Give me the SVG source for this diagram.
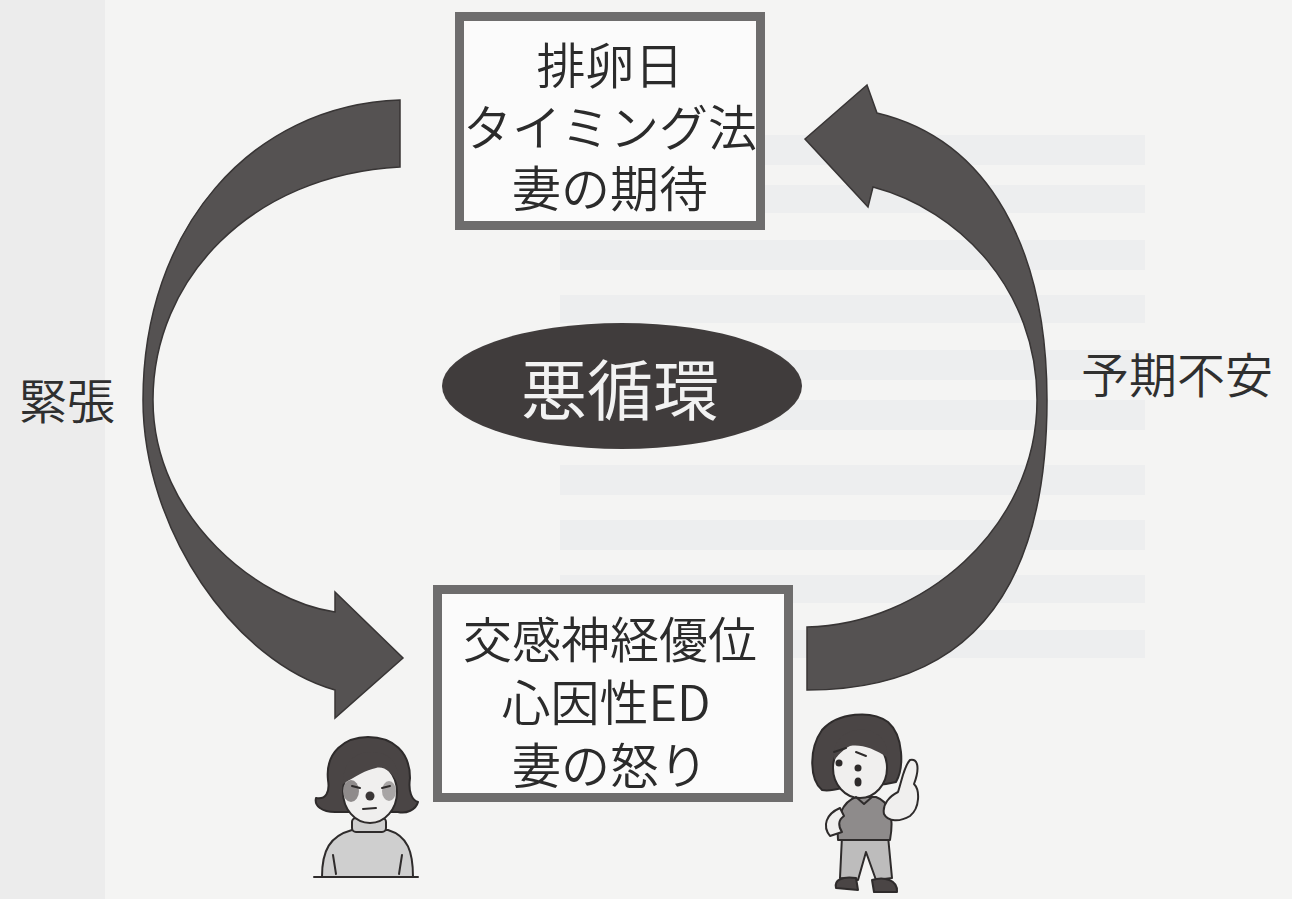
<svg xmlns="http://www.w3.org/2000/svg" width="1292" height="899" viewBox="0 0 1292 899">
  <defs>
    <style>
      .jp { font-family: "Noto Sans CJK JP", "Noto Sans", sans-serif; }
      .box-frame { fill: #fbfbfb; stroke: #6e6d6d; stroke-width: 9; }
      .box-text { fill: #2b2b2b; font-size: 49px; font-weight: 350; text-anchor: middle; dominant-baseline: central; }
      .label { fill: #2f2f2f; font-size: 48px; font-weight: 350; text-anchor: middle; dominant-baseline: central; }
      .loop-arrow { fill: #555252; stroke: #383535; stroke-width: 1.5; stroke-linejoin: miter; }
      .ink { stroke: #2e2b2b; stroke-width: 2; stroke-linejoin: round; stroke-linecap: round; }
      .hair { fill: #4a4545; }
      .skin { fill: #f0efee; }
      .knit { fill: #cfcfcf; }
      .shirt { fill: #8e8b8b; }
      .pants { fill: #bdbcbc; }
      .band { fill: #e6e8ec; }
    </style>
  </defs>

  <!-- paper -->
  <rect x="0" y="0" width="1292" height="899" fill="#f4f4f3"/>
  <rect x="0" y="0" width="105" height="899" fill="#ececec"/>
  <g id="paper-bands" opacity="0.45">
    <rect class="band" x="560" y="135" width="585" height="30"/>
    <rect class="band" x="560" y="185" width="585" height="28"/>
    <rect class="band" x="560" y="240" width="585" height="30"/>
    <rect class="band" x="560" y="295" width="585" height="28"/>
    <rect class="band" x="660" y="350" width="485" height="30"/>
    <rect class="band" x="660" y="400" width="485" height="30"/>
    <rect class="band" x="560" y="465" width="585" height="30"/>
    <rect class="band" x="560" y="520" width="585" height="30"/>
    <rect class="band" x="560" y="575" width="585" height="28"/>
    <rect class="band" x="560" y="630" width="585" height="28"/>
  </g>

  <!-- connectors: the two curved loop arrows -->
  <g id="connectors">
    <path id="arrow-tension" class="loop-arrow"
          d="M 400 100 C 250 105 143 230 143 400 C 143 530 235 662 335 690 L 335 718 L 403 658 L 335 592 L 335 612 C 262 602 153 520 153 400 C 153 280 250 175 400 167 Z"/>
    <path id="arrow-anxiety" class="loop-arrow"
          d="M 807 690 C 970 690 1047 590 1047 400 C 1047 250 990 140 877 113 L 867 85 L 805 139 L 868 207 L 873 187 C 960 210 1037 290 1037 400 C 1037 530 920 625 807 627 Z"/>
  </g>

  <!-- top box -->
  <g id="node-ovulation">
    <rect class="box-frame" x="459.5" y="16.5" width="301" height="209"/>
    <text class="jp box-text"><tspan x="610" y="62">排卵日</tspan><tspan x="610" y="124">タイミング法</tspan><tspan x="610" y="185">妻の期待</tspan></text>
  </g>

  <!-- bottom box -->
  <g id="node-ed">
    <rect class="box-frame" x="437.5" y="589.5" width="351" height="208"/>
    <text class="jp box-text"><tspan x="610" y="636">交感神経優位</tspan><tspan x="606" y="699">心因性ED</tspan><tspan x="610" y="762">妻の怒り</tspan></text>
  </g>

  <!-- centre ellipse -->
  <g id="node-vicious-circle">
    <ellipse cx="622" cy="386" rx="180" ry="63" fill="#403c3c"/>
    <text class="jp" x="620" y="386" font-size="66" fill="#f2f2f2" text-anchor="middle" dominant-baseline="central">悪循環</text>
  </g>

  <!-- side labels -->
  <g id="label-tension">
    <text class="jp label" x="67" y="398">緊張</text>
  </g>
  <g id="label-anxiety">
    <text class="jp label" x="1177" y="372">予期不安</text>
  </g>

  <!-- worried woman, bottom left -->
  <g id="figure-worried">
    <path class="knit ink" d="M 322 877 C 322 850 330 836 352 830 L 388 830 C 408 836 413 852 413 877 Z"/>
    <path class="ink" fill="none" d="M 333 855 L 336 874 M 402 855 L 399 874"/>
    <rect class="knit ink" x="352" y="818" width="34" height="14" rx="4"/>
    <path class="hair ink" d="M 335 812 C 322 812 314 806 316 798 C 326 800 330 792 328 780 C 325 752 345 737 368 737 C 393 737 410 752 410 778 C 408 792 412 800 418 802 C 416 810 406 814 398 812 Z"/>
    <ellipse class="skin ink" cx="370" cy="792" rx="27" ry="31"/>
    <path class="hair" d="M 343 784 C 343 760 356 752 372 752 C 390 752 400 764 398 784 C 392 772 384 766 376 768 C 366 770 356 776 343 784 Z"/>
    <ellipse cx="351" cy="791" rx="8" ry="11" fill="#8f8b8b"/>
    <ellipse cx="389" cy="791" rx="7" ry="10" fill="#a8a5a5"/>
    <path class="ink" fill="none" d="M 352 786 L 360 788 M 382 788 L 390 786"/>
    <circle cx="370" cy="796" r="4.5" fill="#3a3636"/>
    <path class="ink" fill="none" d="M 363 809 L 376 808"/>
    <path class="ink" fill="none" d="M 314 877 L 418 877"/>
  </g>

  <!-- cheerful woman giving thumbs up, bottom right -->
  <g id="figure-thumbs-up">
    <path class="pants ink" d="M 842 836 L 888 836 L 892 878 L 876 880 L 866 852 L 858 880 L 840 878 Z"/>
    <path class="hair ink" d="M 836 888 C 834 880 842 876 856 878 L 858 890 Z"/>
    <path class="hair ink" d="M 872 880 C 884 876 898 880 897 892 L 874 892 Z"/>
    <path class="shirt ink" d="M 838 840 C 836 818 842 802 856 797 L 876 797 C 890 802 894 818 890 840 Z"/>
    <path class="skin ink" d="M 840 808 C 826 814 822 826 830 836 L 842 832 C 838 826 838 820 844 816 Z"/>
    <path class="skin ink" d="M 884 814 C 882 804 890 796 898 792 C 902 780 904 766 910 760 C 918 758 920 768 914 784 C 920 790 920 808 910 816 C 900 822 888 822 884 814 Z"/>
    <path class="hair ink" d="M 822 790 C 810 780 808 750 822 730 C 838 712 872 710 888 722 C 904 736 904 768 896 782 C 880 786 866 786 850 786 C 840 788 832 792 822 790 Z"/>
    <ellipse class="skin ink" cx="860" cy="768" rx="27" ry="30"/>
    <path class="hair" d="M 834 760 C 832 738 848 728 866 730 C 880 732 888 742 888 758 C 874 748 860 744 850 746 C 842 750 838 756 834 760 Z"/>
    <path class="ink" fill="none" d="M 834 752 L 846 748 M 856 752 L 866 756"/>
    <circle cx="839" cy="763" r="3.5" fill="#2e2b2b"/>
    <circle cx="858" cy="768" r="3.5" fill="#2e2b2b"/>
    <ellipse cx="858" cy="782" rx="3.5" ry="4.5" fill="#2e2b2b"/>
    <path class="ink" fill="none" d="M 856 797 L 864 804 L 872 797"/>
  </g>
</svg>
